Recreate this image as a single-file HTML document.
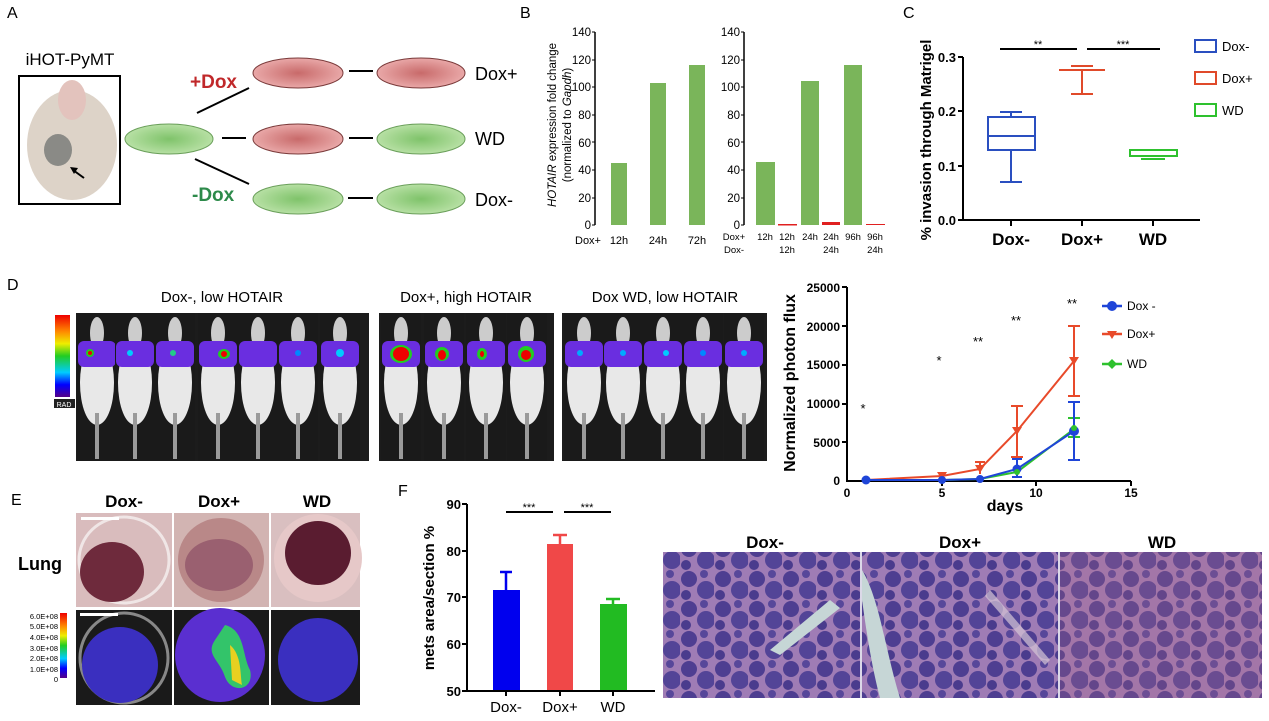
<!DOCTYPE html>
<html><head><meta charset="utf-8"><style>
html,body{margin:0;padding:0;background:#fff;}
svg{display:block;font-family:"Liberation Sans",Arial,sans-serif;}
</style></head><body>
<svg width="1269" height="721" viewBox="0 0 1269 721" xmlns="http://www.w3.org/2000/svg">
<defs>
<pattern id="histo" width="34" height="30" patternUnits="userSpaceOnUse">
<rect width="34" height="30" fill="#b58cc0"/>
<circle cx="9" cy="9" r="8" fill="#4f3f93"/>
<circle cx="26" cy="20" r="9" fill="#56469a"/>
<circle cx="24" cy="4" r="4" fill="#5a4a9e"/>
<circle cx="6" cy="25" r="5" fill="#4a3b8e"/>
</pattern>
<linearGradient id="rainbow" x1="0" y1="0" x2="0" y2="1">
<stop offset="0" stop-color="#e00"/><stop offset="0.2" stop-color="#f80"/><stop offset="0.35" stop-color="#ee0"/><stop offset="0.5" stop-color="#2c2"/><stop offset="0.7" stop-color="#0cf"/><stop offset="0.85" stop-color="#00f"/><stop offset="1" stop-color="#508"/>
</linearGradient>
<radialGradient id="dishR"><stop offset="0" stop-color="#c86a6a"/><stop offset="1" stop-color="#e9a8a8"/></radialGradient>
<radialGradient id="dishG"><stop offset="0" stop-color="#7fc36a"/><stop offset="1" stop-color="#b7e0a4"/></radialGradient>
<g id="mouse">
<rect x="-20" y="0" width="40" height="148" fill="#1a1a1a"/>
<ellipse cx="0" cy="20" rx="7" ry="16" fill="#ccc"/>
<ellipse cx="0" cy="70" rx="17" ry="42" fill="#e8e8e8"/>
<rect x="-19" y="28" width="38" height="26" rx="6" fill="#6a2ee0"/>
<rect x="-2" y="100" width="4" height="46" fill="#9a9a9a"/>
</g>
</defs>

<!-- Panel A -->
<text x="7" y="18" font-size="16">A</text>
<text x="70" y="65" font-size="17" text-anchor="middle">iHOT-PyMT</text>
<rect x="19" y="76" width="101" height="128" fill="#fff" stroke="#000" stroke-width="2"/>
<ellipse cx="72" cy="145" rx="45" ry="55" fill="#ddd3c8"/>
<ellipse cx="72" cy="100" rx="14" ry="20" fill="#e3c3bd"/>
<ellipse cx="58" cy="150" rx="14" ry="16" fill="#8a8a86"/>
<line x1="84" y1="178" x2="73" y2="170" stroke="#000" stroke-width="2"/>
<polygon points="70,167 78,168 74,174" fill="#000"/>
<ellipse cx="169" cy="139" rx="44" ry="15" fill="url(#dishG)" stroke="#6a9f5a"/>
<line x1="197" y1="113" x2="249" y2="88" stroke="#000" stroke-width="2"/>
<line x1="195" y1="159" x2="249" y2="184" stroke="#000" stroke-width="2"/>
<line x1="222" y1="138" x2="246" y2="138" stroke="#000" stroke-width="2"/>
<text x="190" y="88" font-size="19" font-weight="bold" fill="#c0282a">+Dox</text>
<text x="192" y="201" font-size="19" font-weight="bold" fill="#2d8a4a">-Dox</text>
<ellipse cx="298" cy="73" rx="45" ry="15" fill="url(#dishR)" stroke="#7a3a3a"/>
<ellipse cx="421" cy="73" rx="44" ry="15" fill="url(#dishR)" stroke="#7a3a3a"/>
<ellipse cx="298" cy="139" rx="45" ry="15" fill="url(#dishR)" stroke="#7a3a3a"/>
<ellipse cx="421" cy="139" rx="44" ry="15" fill="url(#dishG)" stroke="#6a9f5a"/>
<ellipse cx="298" cy="199" rx="45" ry="15" fill="url(#dishG)" stroke="#6a9f5a"/>
<ellipse cx="421" cy="199" rx="44" ry="15" fill="url(#dishG)" stroke="#6a9f5a"/>
<line x1="349" y1="71" x2="373" y2="71" stroke="#000" stroke-width="2"/>
<line x1="349" y1="138" x2="373" y2="138" stroke="#000" stroke-width="2"/>
<line x1="348" y1="198" x2="373" y2="198" stroke="#000" stroke-width="2"/>
<text x="475" y="80" font-size="18">Dox+</text>
<text x="475" y="145" font-size="18">WD</text>
<text x="475" y="206" font-size="18">Dox-</text>

<!-- Panel B -->
<text x="520" y="18" font-size="16">B</text>
<g font-size="11.5" text-anchor="middle" transform="rotate(-90)">
<text x="-125" y="556"><tspan font-style="italic">HOTAIR</tspan> expression fold change</text>
<text x="-125" y="571">(normalized to <tspan font-style="italic">Gapdh</tspan>)</text>
</g>
<g font-size="11.5" text-anchor="end">
<text x="591" y="36">140</text><text x="591" y="64">120</text><text x="591" y="91">100</text><text x="591" y="119">80</text><text x="591" y="147">60</text><text x="591" y="174">40</text><text x="591" y="202">20</text><text x="591" y="229">0</text>
<text x="740" y="36">140</text><text x="740" y="64">120</text><text x="740" y="91">100</text><text x="740" y="119">80</text><text x="740" y="147">60</text><text x="740" y="174">40</text><text x="740" y="202">20</text><text x="740" y="229">0</text>
</g>
<g stroke="#000" stroke-width="1.5">
<line x1="595" y1="32" x2="595" y2="225"/>
<line x1="744" y1="32" x2="744" y2="225"/>
</g>
<g stroke="#000" stroke-width="1">
<line x1="592" y1="32" x2="595" y2="32"/><line x1="592" y1="60" x2="595" y2="60"/><line x1="592" y1="87" x2="595" y2="87"/><line x1="592" y1="115" x2="595" y2="115"/><line x1="592" y1="142" x2="595" y2="142"/><line x1="592" y1="170" x2="595" y2="170"/><line x1="592" y1="198" x2="595" y2="198"/><line x1="592" y1="225" x2="595" y2="225"/>
<line x1="741" y1="32" x2="744" y2="32"/><line x1="741" y1="60" x2="744" y2="60"/><line x1="741" y1="87" x2="744" y2="87"/><line x1="741" y1="115" x2="744" y2="115"/><line x1="741" y1="142" x2="744" y2="142"/><line x1="741" y1="170" x2="744" y2="170"/><line x1="741" y1="198" x2="744" y2="198"/><line x1="741" y1="225" x2="744" y2="225"/>
</g>
<g fill="#7ab55a">
<rect x="611" y="163" width="16" height="62"/>
<rect x="650" y="83" width="16" height="142"/>
<rect x="689" y="65" width="16" height="160"/>
<rect x="756" y="162" width="19" height="63"/>
<rect x="801" y="81" width="18" height="144"/>
<rect x="844" y="65" width="18" height="160"/>
</g>
<g fill="#e02020">
<rect x="778" y="224" width="19" height="1.5"/>
<rect x="822" y="222" width="18" height="3"/>
<rect x="866" y="224" width="19" height="1"/>
</g>
<g font-size="11" text-anchor="middle">
<text x="588" y="244">Dox+</text><text x="619" y="244">12h</text><text x="658" y="244">24h</text><text x="697" y="244">72h</text>
</g>
<g font-size="9.5" text-anchor="middle">
<text x="734" y="240">Dox+</text><text x="734" y="253">Dox-</text>
<text x="765" y="240">12h</text><text x="787" y="240">12h</text><text x="787" y="253">12h</text>
<text x="810" y="240">24h</text><text x="831" y="240">24h</text><text x="831" y="253">24h</text>
<text x="853" y="240">96h</text><text x="875" y="240">96h</text><text x="875" y="253">24h</text>
</g>

<!-- Panel C -->
<text x="903" y="18" font-size="16">C</text>
<text transform="rotate(-90)" x="-140" y="931" font-size="15" font-weight="bold" text-anchor="middle">% invasion through Matrigel</text>
<g font-size="13" font-weight="bold" text-anchor="end">
<text x="956" y="62">0.3</text><text x="956" y="116">0.2</text><text x="956" y="171">0.1</text><text x="956" y="225">0.0</text>
</g>
<g stroke="#000" stroke-width="2">
<line x1="963" y1="57" x2="963" y2="221"/>
<line x1="962" y1="220" x2="1200" y2="220"/>
<line x1="958" y1="57" x2="963" y2="57"/><line x1="958" y1="111" x2="963" y2="111"/><line x1="958" y1="166" x2="963" y2="166"/><line x1="958" y1="220" x2="963" y2="220"/>
<line x1="1011" y1="220" x2="1011" y2="226"/><line x1="1082" y1="220" x2="1082" y2="226"/><line x1="1153" y1="220" x2="1153" y2="226"/>
<line x1="1000" y1="49" x2="1077" y2="49"/><line x1="1087" y1="49" x2="1160" y2="49"/>
</g>
<text x="1038" y="48" font-size="11" text-anchor="middle">**</text>
<text x="1123" y="48" font-size="11" text-anchor="middle">***</text>
<g fill="none" stroke-width="2">
<g stroke="#2a4fc0">
<rect x="988" y="117" width="47" height="33"/><line x1="988" y1="136" x2="1035" y2="136"/>
<line x1="1011" y1="117" x2="1011" y2="112"/><line x1="1000" y1="112" x2="1022" y2="112"/>
<line x1="1011" y1="150" x2="1011" y2="182"/><line x1="1000" y1="182" x2="1022" y2="182"/>
</g>
<g stroke="#e04a2a">
<line x1="1059" y1="70" x2="1105" y2="70"/><line x1="1082" y1="70" x2="1082" y2="94"/><line x1="1071" y1="94" x2="1093" y2="94"/><line x1="1071" y1="66" x2="1093" y2="66"/>
</g>
<g stroke="#2ec12e">
<rect x="1130" y="150" width="47" height="6"/><line x1="1141" y1="159" x2="1165" y2="159"/>
</g>
</g>
<g font-size="17" font-weight="bold" text-anchor="middle">
<text x="1011" y="245">Dox-</text><text x="1082" y="245">Dox+</text><text x="1153" y="245">WD</text>
</g>
<g fill="none" stroke-width="2">
<rect x="1195" y="40" width="21" height="12" stroke="#2a4fc0"/>
<rect x="1195" y="72" width="21" height="12" stroke="#e04a2a"/>
<rect x="1195" y="104" width="21" height="12" stroke="#2ec12e"/>
</g>
<g font-size="13"><text x="1222" y="51">Dox-</text><text x="1222" y="83">Dox+</text><text x="1222" y="115">WD</text></g>

<!-- Panel D images -->
<text x="7" y="290" font-size="16">D</text>
<g font-size="15" text-anchor="middle">
<text x="222" y="302">Dox-, low HOTAIR</text>
<text x="466" y="302">Dox+, high HOTAIR</text>
<text x="665" y="302">Dox WD, low HOTAIR</text>
</g>
<rect x="55" y="315" width="15" height="82" fill="url(#rainbow)"/>
<rect x="54" y="399" width="21" height="9" fill="#222"/>
<text x="64" y="407" font-size="7" fill="#fff" text-anchor="middle">RAD</text>
<rect x="76" y="313" width="293" height="148" fill="#1c1c1c"/>
<rect x="379" y="313" width="175" height="148" fill="#1c1c1c"/>
<rect x="562" y="313" width="205" height="148" fill="#1c1c1c"/>
<g transform="translate(0,313)">
<use href="#mouse" x="97"/><use href="#mouse" x="135"/><use href="#mouse" x="175"/><use href="#mouse" x="218"/><use href="#mouse" x="258"/><use href="#mouse" x="298"/><use href="#mouse" x="340"/>
<use href="#mouse" x="401"/><use href="#mouse" x="444"/><use href="#mouse" x="486"/><use href="#mouse" x="527"/>
<use href="#mouse" x="584"/><use href="#mouse" x="623"/><use href="#mouse" x="663"/><use href="#mouse" x="703"/><use href="#mouse" x="744"/>
</g>
<g>
<circle cx="90" cy="353" r="4" fill="#2c2"/><circle cx="90" cy="353" r="2" fill="#e00"/>
<circle cx="130" cy="353" r="3" fill="#0cf"/><circle cx="173" cy="353" r="3" fill="#2c8"/>
<ellipse cx="224" cy="354" rx="6" ry="5" fill="#2c2"/><ellipse cx="224" cy="354" rx="3" ry="3" fill="#e00"/>
<circle cx="298" cy="353" r="3" fill="#08f"/><circle cx="340" cy="353" r="4" fill="#0cf"/>
<ellipse cx="401" cy="354" rx="11" ry="9" fill="#2c2"/><ellipse cx="401" cy="354" rx="8" ry="7" fill="#e00"/>
<ellipse cx="442" cy="354" rx="7" ry="7" fill="#2c2"/><ellipse cx="442" cy="355" rx="4" ry="5" fill="#e00"/>
<ellipse cx="482" cy="354" rx="5" ry="6" fill="#2c2"/><ellipse cx="482" cy="354" rx="2" ry="3" fill="#e00"/>
<ellipse cx="526" cy="354" rx="8" ry="8" fill="#2c2"/><ellipse cx="526" cy="355" rx="5" ry="5" fill="#e00"/>
<circle cx="580" cy="353" r="3" fill="#0af"/><circle cx="623" cy="353" r="3" fill="#0af"/><circle cx="666" cy="353" r="3" fill="#0cf"/><circle cx="703" cy="353" r="3" fill="#08f"/><circle cx="744" cy="353" r="3" fill="#0af"/>
</g>

<!-- Panel D chart -->
<text transform="rotate(-90)" x="-383" y="795" font-size="16" font-weight="bold" text-anchor="middle">Normalized photon flux</text>
<g font-size="12" font-weight="bold" text-anchor="end">
<text x="840" y="292">25000</text><text x="840" y="331">20000</text><text x="840" y="369">15000</text><text x="840" y="408">10000</text><text x="840" y="447">5000</text><text x="840" y="485">0</text>
</g>
<g stroke="#000" stroke-width="2">
<line x1="847" y1="287" x2="847" y2="482"/><line x1="846" y1="481" x2="1131" y2="481"/>
<line x1="842" y1="287" x2="847" y2="287"/><line x1="842" y1="326" x2="847" y2="326"/><line x1="842" y1="365" x2="847" y2="365"/><line x1="842" y1="404" x2="847" y2="404"/><line x1="842" y1="442" x2="847" y2="442"/>
<line x1="942" y1="481" x2="942" y2="486"/><line x1="1036" y1="481" x2="1036" y2="486"/><line x1="1131" y1="481" x2="1131" y2="486"/>
</g>
<g font-size="12" font-weight="bold" text-anchor="middle">
<text x="847" y="497">0</text><text x="942" y="497">5</text><text x="1036" y="497">10</text><text x="1131" y="497">15</text>
</g>
<text x="1005" y="511" font-size="16" font-weight="bold" text-anchor="middle">days</text>
<g font-size="13" text-anchor="middle">
<text x="863" y="413">*</text><text x="939" y="365">*</text><text x="978" y="346">**</text><text x="1016" y="325">**</text><text x="1072" y="308">**</text>
</g>
<g fill="none" stroke-width="2">
<polyline stroke="#e84a2a" points="866,480 942,476 980,469 1017,431 1074,361"/>
<polyline stroke="#2ec12e" points="866,480 942,480 980,479 1017,472 1074,429"/>
<polyline stroke="#1f45d8" points="866,480 942,480 980,479 1017,469 1074,431"/>
<g stroke="#e84a2a"><line x1="1017" y1="406" x2="1017" y2="457"/><line x1="1011" y1="406" x2="1023" y2="406"/><line x1="1011" y1="457" x2="1023" y2="457"/>
<line x1="1074" y1="326" x2="1074" y2="396"/><line x1="1068" y1="326" x2="1080" y2="326"/><line x1="1068" y1="396" x2="1080" y2="396"/>
<line x1="980" y1="462" x2="980" y2="474"/><line x1="975" y1="462" x2="985" y2="462"/></g>
<g stroke="#2ec12e"><line x1="1074" y1="418" x2="1074" y2="437"/><line x1="1068" y1="418" x2="1080" y2="418"/><line x1="1068" y1="437" x2="1080" y2="437"/></g>
<g stroke="#1f45d8"><line x1="1074" y1="402" x2="1074" y2="460"/><line x1="1068" y1="402" x2="1080" y2="402"/><line x1="1068" y1="460" x2="1080" y2="460"/>
<line x1="1017" y1="459" x2="1017" y2="477"/><line x1="1012" y1="459" x2="1022" y2="459"/><line x1="1012" y1="477" x2="1022" y2="477"/></g>
</g>
<g fill="#e84a2a"><polygon points="937,472 947,472 942,480"/><polygon points="975,465 985,465 980,473"/><polygon points="1012,427 1022,427 1017,435"/><polygon points="1069,357 1079,357 1074,365"/></g>
<g fill="#1f45d8"><circle cx="866" cy="480" r="4.5"/><circle cx="942" cy="480" r="4"/><circle cx="980" cy="479" r="4"/><circle cx="1017" cy="469" r="4.5"/><circle cx="1074" cy="431" r="5"/></g>
<g fill="#2ec12e"><circle cx="1017" cy="472" r="3"/><circle cx="1074" cy="428" r="3"/></g>
<g stroke-width="2.5">
<line x1="1102" y1="306" x2="1122" y2="306" stroke="#1f45d8"/><circle cx="1112" cy="306" r="5" fill="#1f45d8"/>
<line x1="1102" y1="334" x2="1122" y2="334" stroke="#e84a2a"/><polygon points="1107,331 1117,331 1112,339" fill="#e84a2a"/>
<line x1="1102" y1="364" x2="1122" y2="364" stroke="#2ec12e"/><polygon points="1112,359 1117,364 1112,369 1107,364" fill="#2ec12e"/>
</g>
<g font-size="12"><text x="1127" y="310">Dox -</text><text x="1127" y="338">Dox+</text><text x="1127" y="368">WD</text></g>

<!-- Panel E -->
<text x="11" y="505" font-size="16">E</text>
<g font-size="17" font-weight="bold" text-anchor="middle">
<text x="124" y="507">Dox-</text><text x="219" y="507">Dox+</text><text x="317" y="507">WD</text>
</g>
<text x="18" y="570" font-size="18" font-weight="bold">Lung</text>
<g>
<rect x="76" y="513" width="96" height="94" fill="#d9bcbd"/>
<rect x="174" y="513" width="95" height="94" fill="#d2b4b2"/>
<rect x="271" y="513" width="89" height="94" fill="#d9bfc0"/>
<ellipse cx="124" cy="560" rx="45" ry="43" fill="none" stroke="#f0e6e6" stroke-width="3"/>
<ellipse cx="112" cy="572" rx="32" ry="30" fill="#6e2a3c"/>
<ellipse cx="221" cy="560" rx="43" ry="42" fill="#b98888"/>
<ellipse cx="219" cy="565" rx="34" ry="26" fill="#9a6070"/>
<ellipse cx="318" cy="558" rx="44" ry="44" fill="#e6c8c8"/>
<ellipse cx="318" cy="553" rx="33" ry="32" fill="#5a1c30"/>
<rect x="81" y="517" width="38" height="3" fill="#fff"/>
</g>
<g>
<rect x="76" y="610" width="96" height="95" fill="#1a1a1a"/>
<rect x="174" y="610" width="95" height="95" fill="#1a1a1a"/>
<rect x="271" y="610" width="89" height="95" fill="#1a1a1a"/>
<ellipse cx="124" cy="658" rx="44" ry="45" fill="none" stroke="#888" stroke-width="3"/>
<ellipse cx="120" cy="665" rx="38" ry="38" fill="#3a2fbf"/>
<ellipse cx="220" cy="655" rx="45" ry="47" fill="#5a2fd0"/>
<path d="M225,625 C245,630 242,655 250,670 C255,690 232,695 225,677 C220,660 205,655 215,640 Z" fill="#33c46a"/>
<path d="M230,645 C242,655 240,675 242,685 L232,680 Z" fill="#e8d020"/>
<ellipse cx="318" cy="660" rx="40" ry="42" fill="#3a2fbf"/>
<rect x="80" y="613" width="38" height="3" fill="#fff"/>
</g>
<rect x="60" y="613" width="7" height="65" fill="url(#rainbow)"/>
<g font-size="7.5" text-anchor="end">
<text x="58" y="619">6.0E+08</text><text x="58" y="629">5.0E+08</text><text x="58" y="640">4.0E+08</text><text x="58" y="651">3.0E+08</text><text x="58" y="661">2.0E+08</text><text x="58" y="672">1.0E+08</text><text x="58" y="682">0</text>
</g>

<!-- Panel F -->
<text x="398" y="496" font-size="16">F</text>
<text transform="rotate(-90)" x="-598" y="434" font-size="15" font-weight="bold" text-anchor="middle">mets area/section %</text>
<g font-size="13" font-weight="bold" text-anchor="end">
<text x="461" y="509">90</text><text x="461" y="556">80</text><text x="461" y="602">70</text><text x="461" y="649">60</text><text x="461" y="696">50</text>
</g>
<g fill="#0000ee"><rect x="493" y="590" width="27" height="101"/></g>
<g fill="#f04848"><rect x="547" y="544" width="26" height="147"/></g>
<g fill="#22bb22"><rect x="600" y="604" width="27" height="87"/></g>
<g stroke-width="2.5">
<line x1="506" y1="590" x2="506" y2="572" stroke="#0000ee"/><line x1="500" y1="572" x2="512" y2="572" stroke="#0000ee"/>
<line x1="560" y1="544" x2="560" y2="535" stroke="#f04848"/><line x1="553" y1="535" x2="567" y2="535" stroke="#f04848"/>
<line x1="613" y1="604" x2="613" y2="599" stroke="#22bb22"/><line x1="606" y1="599" x2="620" y2="599" stroke="#22bb22"/>
</g>
<g stroke="#000" stroke-width="2">
<line x1="467" y1="504" x2="467" y2="692"/><line x1="466" y1="691" x2="655" y2="691"/>
<line x1="462" y1="504" x2="467" y2="504"/><line x1="462" y1="551" x2="467" y2="551"/><line x1="462" y1="597" x2="467" y2="597"/><line x1="462" y1="644" x2="467" y2="644"/><line x1="462" y1="691" x2="467" y2="691"/>
<line x1="506" y1="691" x2="506" y2="696"/><line x1="560" y1="691" x2="560" y2="696"/><line x1="613" y1="691" x2="613" y2="696"/>
<line x1="506" y1="512" x2="553" y2="512"/><line x1="564" y1="512" x2="611" y2="512"/>
</g>
<text x="529" y="511" font-size="11" text-anchor="middle">***</text>
<text x="587" y="511" font-size="11" text-anchor="middle">***</text>
<g font-size="15" text-anchor="middle">
<text x="506" y="712">Dox-</text><text x="560" y="712">Dox+</text><text x="613" y="712">WD</text>
</g>

<!-- Histology -->
<g font-size="17" font-weight="bold" text-anchor="middle">
<text x="765" y="548">Dox-</text><text x="960" y="548">Dox+</text><text x="1162" y="548">WD</text>
</g>
<rect x="663" y="552" width="197" height="146" fill="url(#histo)"/>
<rect x="862" y="552" width="196" height="146" fill="url(#histo)"/>
<rect x="1060" y="552" width="202" height="146" fill="url(#histo)"/>
<rect x="1060" y="552" width="202" height="146" fill="#c87080" opacity="0.25"/>
<rect x="663" y="552" width="599" height="146" fill="#4a3b8e" opacity="0.2"/>
<path d="M862,570 C880,600 885,650 900,698 L880,698 C870,660 865,620 862,600 Z" fill="#c6d6d6"/>
<path d="M770,650 L830,600 L840,608 L780,655 Z" fill="#c6d6d6"/>
<path d="M990,590 L1050,660 L1045,665 L985,596 Z" fill="#d6c6d6" opacity="0.7"/>
</svg>
</body></html>
